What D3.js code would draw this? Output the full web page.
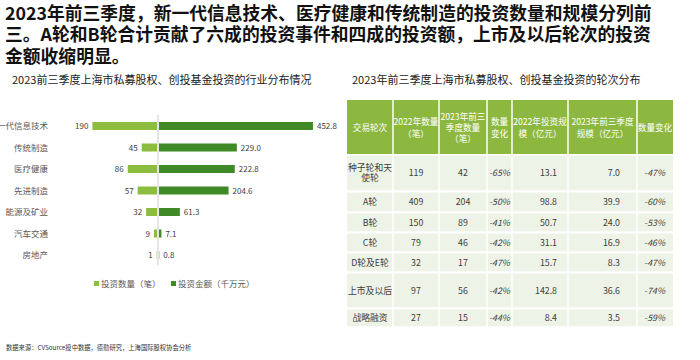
<!DOCTYPE html>
<html><head><meta charset="utf-8">
<script src="https://cdn.jsdelivr.net/npm/d3@7"></script>
<style>
html,body{margin:0;padding:0;background:#fff;}
svg{display:block;font-family:"Noto Sans CJK SC","Noto Sans",sans-serif;}
</style></head>
<body>
<svg id="c" width="700" height="360"></svg>
<script>
// ---- data ----
const titleLines = [
  "2023年前三季度，新一代信息技术、医疗健康和传统制造的投资数量和规模分列前",
  "三。A轮和B轮合计贡献了六成的投资事件和四成的投资额，上市及以后轮次的投资",
  "金额收缩明显。"
];
const leftTitle = "2023前三季度上海市私募股权、创投基金投资的行业分布情况";
const rightTitle = "2023年前三季度上海市私募股权、创投基金投资的轮次分布";
const sourceNote = "数据来源：CVSource投中数据，德勤研究，上海国际股权协会分析";

const industries = ["新一代信息技术","传统制造","医疗健康","先进制造","能源及矿业","汽车交通","房地产"];
const dealCount = [190,45,86,57,32,9,1];
const dealAmount = [452.8,229.0,222.8,204.6,61.3,7.1,0.8];
const legendLabels = ["投资数量（笔）","投资金额（千万元）"];

const tableHeaders = [
  ["交易轮次"],
  ["2022年数量","（笔）"],
  ["2023年前三","季度数量","（笔）"],
  ["数量","变化"],
  ["2022年投资规","模（亿元）"],
  ["2023年前三季度","规模（亿元）"],
  ["数量变化"]
];
const rounds = [["种子轮和天","使轮"],["A轮"],["B轮"],["C轮"],["D轮及E轮"],["上市及以后"],["战略融资"]];
const count2022 = [119,409,150,79,32,97,27];
const count2023 = [42,204,89,46,17,56,15];
const countChange = ["-65%","-50%","-41%","-42%","-47%","-42%","-44%"];
const amount2022 = ["13.1","98.8","50.7","31.1","15.7","142.8","8.4"];
const amount2023 = ["7.0","39.9","24.0","16.9","8.3","36.6","3.5"];
const amountChange = ["-47%","-60%","-53%","-46%","-47%","-74%","-59%"];

// ---- styles ----
const LIGHT = "#8dbd3f", DARK = "#3f8a27", HEAD = "#8db83f", CELL = "#eef3e7";
const svg = d3.select("#c");

// main title
svg.append("g").selectAll("text").data(titleLines).join("text")
  .attr("x", 5).attr("y", (d,i)=>19.5 + i*21.6)
  .attr("font-size", 17.8).attr("font-weight", "bold").attr("fill", "#111")
  .text(d=>d);

svg.append("text").attr("x", 12).attr("y", 84).attr("font-size", 11).attr("fill","#1a1a1a").text(leftTitle);
svg.append("text").attr("x", 352).attr("y", 84).attr("font-size", 11).attr("fill","#1a1a1a").text(rightTitle);
svg.append("text").attr("x", 6).attr("y", 350).attr("font-size", 6.3).attr("fill","#333").text(sourceNote);

// ---- left diverging bar chart ----
const cx = 158;
const x = d3.scaleLinear().domain([0, 500]).range([0, 170]);
const y = d3.scalePoint().domain(industries).range([126, 255]);
const bh = 8;
const g = svg.append("g");

g.append("line").attr("x1", cx).attr("x2", cx).attr("y1", 115).attr("y2", 265)
  .attr("stroke", "#dcdcdc").attr("stroke-width", 1.5);

const rows = industries.map((c,i)=>({c, n: dealCount[i], a: dealAmount[i]}));
g.selectAll("rect.l").data(rows).join("rect").attr("class","l")
  .attr("x", d=>cx - 1 - x(d.n)).attr("y", d=>y(d.c)-bh/2)
  .attr("width", d=>x(d.n)).attr("height", bh).attr("fill", LIGHT);
g.selectAll("rect.r").data(rows).join("rect").attr("class","r")
  .attr("x", cx + 1).attr("y", d=>y(d.c)-bh/2)
  .attr("width", d=>x(d.a)).attr("height", bh).attr("fill", DARK);

g.selectAll("text.cat").data(rows).join("text").attr("class","cat")
  .attr("x", 48).attr("y", d=>y(d.c)+3).attr("text-anchor","end")
  .attr("font-size", 8.5).attr("fill","#595959").text(d=>d.c);
g.selectAll("text.ln").data(rows).join("text").attr("class","ln")
  .attr("x", d=>cx - 1 - x(d.n) - 4).attr("y", d=>y(d.c)+3).attr("text-anchor","end")
  .attr("font-size", 8).attr("fill","#404040").text(d=>d.n);
g.selectAll("text.rn").data(rows).join("text").attr("class","rn")
  .attr("x", d=>cx + 1 + x(d.a) + 4).attr("y", d=>y(d.c)+3)
  .attr("font-size", 8).attr("fill","#404040").text(d=>d.a.toFixed(1));

// legend
const lg = svg.append("g");
[[94, LIGHT, 101],[171, DARK, 178]].forEach((p,i)=>{
  lg.append("rect").attr("x", p[0]).attr("y", 281).attr("width", 5).attr("height", 5).attr("fill", p[1]);
  lg.append("text").attr("x", p[2]).attr("y", 287).attr("font-size", 8.5).attr("fill","#595959").text(legendLabels[i]);
});

// ---- right table ----
const colEdges = [347, 393, 439, 487, 512, 568, 637, 673];
const rowEdges = [154, 191, 212, 232, 252, 272, 308, 327];
const headTop = 100;
const t = svg.append("g");
const gap = 1.5;

// header cells
tableHeaders.forEach((lines, j)=>{
  t.append("rect").attr("x", colEdges[j] + (j?gap/2:0)).attr("y", headTop)
    .attr("width", colEdges[j+1]-colEdges[j] - (j?gap/2:0) - (j<6?gap/2:0)).attr("height", rowEdges[0]-headTop)
    .attr("fill", HEAD);
  const cxm = (colEdges[j]+colEdges[j+1])/2;
  const lh = 11.3;
  const y0 = 128 - (lines.length-1)*lh/2;
  lines.forEach((s,k)=>{
    t.append("text").attr("x", cxm).attr("y", y0 + k*lh + 3.1).attr("text-anchor","middle")
      .attr("font-size", 8.6).attr("fill","#fff").text(s);
  });
});

// body
const cols = [rounds, count2022, count2023, countChange, amount2022, amount2023, amountChange];
const align = [["middle",0],["middle",0],["middle",0],["middle",0],["end",557],["end",620],["end",665]];
rounds.forEach((r,i)=>{
  const top = rowEdges[i] + gap, bot = rowEdges[i+1] - gap/2;
  const midY = (rowEdges[i] + rowEdges[i+1])/2 + 0.5;
  cols.forEach((col,j)=>{
    t.append("rect").attr("x", colEdges[j] + (j?gap/2:0)).attr("y", top)
      .attr("width", colEdges[j+1]-colEdges[j] - (j?gap/2:0) - (j<6?gap/2:0)).attr("height", bot-top)
      .attr("fill", CELL);
    const v = col[i];
    const lines = Array.isArray(v) ? v : [String(v)];
    const lh = 10;
    const y0 = midY - (lines.length-1)*lh/2;
    const ax = align[j][0]==="middle" ? (colEdges[j]+colEdges[j+1])/2 : align[j][1];
    lines.forEach((s,k)=>{
      t.append("text").attr("x", ax).attr("y", y0 + k*lh + 3.1).attr("text-anchor", align[j][0])
        .attr("font-size", 8.8).attr("fill","#404040")
        .attr("font-style", (j===3||j===6) ? "italic" : "normal").text(s);
    });
  });
});
</script>
</body></html>
